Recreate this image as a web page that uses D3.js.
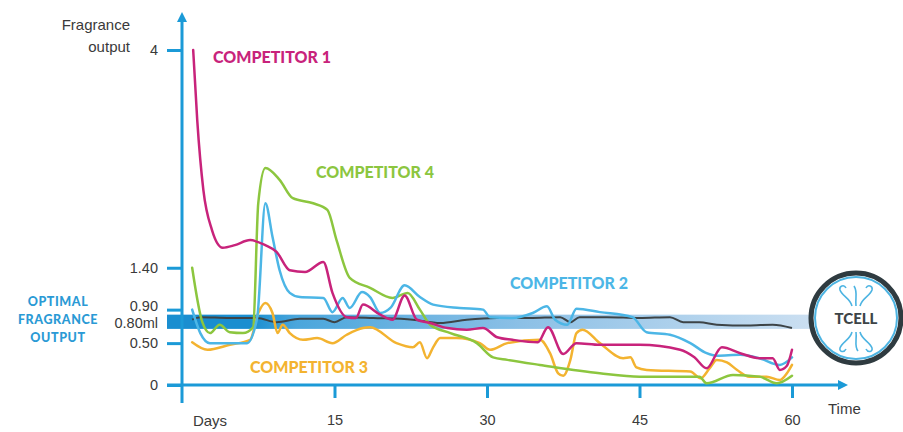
<!DOCTYPE html>
<html>
<head>
<meta charset="utf-8">
<script src="https://cdn.jsdelivr.net/npm/d3@7"></script>
<style>
  body { margin: 0; background: #fff; }
  svg { display: block; }
  .tick text { font-family: "Liberation Sans", Arial, sans-serif; font-size: 14.5px; fill: #3a3a3a; }
  .lbl { font-family: Lato, "Open Sans", sans-serif; font-weight: 900; }
</style>
</head>
<body>
<svg width="903" height="432"></svg>
<script>
// days / fragrance output
const comp1Days = [1.1, 1.5, 2.1, 2.95, 4.0, 5.2, 6.7, 8.2, 9.3, 10.6, 12.1, 13.9, 14.8, 16.2, 17.1, 17.8, 19.5, 20.7, 21.9, 23.1, 24.4, 26.1, 28.0, 29.6, 31.0, 32.5, 35.0, 36.0, 37.5, 38.8, 41.1, 45.0, 49.0, 50.4, 51.6, 53.1, 54.9, 56.8, 58.1, 58.8, 59.5, 60.0]
const comp1Vals = [4.0, 3.16, 2.33, 1.85, 1.64, 1.67, 1.73, 1.67, 1.59, 1.37, 1.35, 1.47, 1.10, 0.81, 0.80, 0.96, 0.84, 0.78, 1.07, 0.78, 0.74, 0.68, 0.66, 0.68, 0.57, 0.54, 0.51, 0.69, 0.37, 0.50, 0.48, 0.48, 0.42, 0.33, 0.20, 0.45, 0.38, 0.32, 0.32, 0.18, 0.23, 0.42]

const comp2Days = [1.0, 1.8, 2.75, 4.7, 6.4, 7.4, 8.2, 8.9, 9.6, 10.6, 11.6, 13.9, 14.8, 15.8, 16.5, 17.7, 18.5, 19.5, 20.5, 21.9, 23.4, 24.7, 27.3, 29.6, 30.3, 32.5, 34.5, 35.9, 36.7, 37.9, 38.8, 41.1, 44.3, 45.7, 48.0, 50.0, 51.6, 52.6, 54.9, 56.8, 58.8, 60.0]
const comp2Vals = [0.90, 0.62, 0.50, 0.50, 0.50, 0.81, 2.17, 1.77, 1.37, 1.10, 1.05, 1.04, 0.87, 1.04, 0.92, 1.11, 1.05, 0.86, 0.92, 1.19, 1.05, 0.96, 0.92, 0.90, 0.81, 0.80, 0.86, 0.94, 0.78, 0.72, 0.91, 0.87, 0.81, 0.63, 0.60, 0.50, 0.38, 0.35, 0.36, 0.32, 0.24, 0.33]

const comp3Days = [1.0, 2.5, 4.7, 6.7, 7.5, 8.2, 8.9, 9.4, 9.9, 10.6, 11.9, 13.3, 14.8, 16.2, 17.8, 18.5, 21.1, 22.7, 23.4, 24.1, 24.7, 25.4, 27.0, 29.3, 30.3, 32.0, 35.2, 36.2, 37.0, 37.5, 38.2, 38.8, 39.4, 41.1, 43.4, 44.1, 44.7, 45.7, 50.0, 51.0, 51.9, 52.6, 53.6, 54.6, 55.8, 57.5, 58.8, 59.5, 60.0]
const comp3Vals = [0.51, 0.42, 0.48, 0.54, 0.86, 0.98, 0.86, 0.62, 0.72, 0.62, 0.54, 0.56, 0.50, 0.60, 0.68, 0.69, 0.50, 0.45, 0.51, 0.32, 0.45, 0.56, 0.56, 0.50, 0.42, 0.50, 0.54, 0.38, 0.14, 0.11, 0.30, 0.62, 0.66, 0.50, 0.32, 0.33, 0.21, 0.18, 0.16, 0.08, 0.20, 0.30, 0.27, 0.18, 0.10, 0.10, 0.06, 0.14, 0.24]

const comp4Days = [1.0, 2.0, 2.75, 3.7, 4.7, 6.0, 7.0, 7.5, 8.2, 9.6, 10.9, 12.9, 14.3, 15.2, 16.5, 18.5, 20.7, 22.2, 23.4, 24.4, 26.4, 29.0, 30.6, 32.0, 35.2, 41.1, 45.0, 50.9, 51.6, 54.2, 56.8, 58.5, 60.0]
const comp4Vals = [1.40, 0.75, 0.62, 0.72, 0.63, 0.62, 0.69, 2.17, 2.59, 2.45, 2.23, 2.17, 2.09, 1.73, 1.28, 1.16, 1.04, 1.10, 0.90, 0.72, 0.62, 0.50, 0.33, 0.30, 0.24, 0.14, 0.10, 0.10, 0.02, 0.12, 0.10, 0.02, 0.11]

const tcellDays = [1.0, 1.8, 4.7, 7.4, 9.3, 11.6, 13.9, 15.0, 16.2, 18.8, 22.7, 25.4, 28.0, 31.0, 34.2, 37.2, 38.2, 39.1, 41.8, 45.0, 48.0, 49.3, 50.9, 52.6, 55.7, 58.1, 60.0]
const tcellVals = [0.78, 0.81, 0.80, 0.80, 0.75, 0.79, 0.79, 0.75, 0.81, 0.80, 0.78, 0.74, 0.78, 0.80, 0.80, 0.81, 0.75, 0.81, 0.81, 0.80, 0.81, 0.75, 0.75, 0.72, 0.71, 0.72, 0.68]

const seriesNames = ["COMPETITOR 1", "COMPETITOR 2", "COMPETITOR 3", "COMPETITOR 4"]
const yTickValues = [0, 0.5, 0.9, 1.4, 4]
const yTickLabels = ["0", "0.50", "0.90", "1.40", "4"]
const xTickValues = [15, 30, 45, 60]
const optimalBand = [0.67, 0.84]
const optimalLabel = "0.80ml"

const svg = d3.select('svg')
const x = d3.scaleLinear().domain([0, 60]).range([182, 792])
const y = d3.scaleLinear().domain([0, 4]).range([385, 50])
const axisBlue = '#1b9ad7'

const zip = (ds, vs) => ds.map((d, i) => ({ d: d, v: vs[i] }))
const series = [
  { name: seriesNames[0], color: '#c8237b', data: zip(comp1Days, comp1Vals), lx: 213, ly: 63 },
  { name: seriesNames[1], color: '#4cb6e6', data: zip(comp2Days, comp2Vals), lx: 510, ly: 289 },
  { name: seriesNames[2], color: '#f3b330', data: zip(comp3Days, comp3Vals), lx: 250, ly: 373 },
  { name: seriesNames[3], color: '#8cc63f', data: zip(comp4Days, comp4Vals), lx: 316, ly: 178 }
]

// gradient for the optimal band
const grad = svg.append('defs').append('linearGradient')
  .attr('id', 'band').attr('x1', 0).attr('x2', 1).attr('y1', 0).attr('y2', 0)
grad.append('stop').attr('offset', '0%').attr('stop-color', '#1a8ed0')
grad.append('stop').attr('offset', '13%').attr('stop-color', '#1a8ed0')
grad.append('stop').attr('offset', '20%').attr('stop-color', '#4aa6dc')
grad.append('stop').attr('offset', '55%').attr('stop-color', '#8cc0e6')
grad.append('stop').attr('offset', '100%').attr('stop-color', '#cbdff1')

svg.append('rect')
  .attr('x', 167).attr('width', 645)
  .attr('y', y(optimalBand[1])).attr('height', y(optimalBand[0]) - y(optimalBand[1]))
  .attr('fill', 'url(#band)')

// axes
const yAxis = d3.axisLeft(y).tickValues(yTickValues).tickSize(15).tickPadding(9)
  .tickFormat((d, i) => yTickLabels[i])
const gy = svg.append('g').attr('transform', 'translate(182,0)').call(yAxis)
gy.select('.domain').remove()
gy.selectAll('.tick line').attr('stroke', axisBlue).attr('stroke-width', 3)
// the 0.90 label sits a little above its tick in the original
gy.selectAll('.tick text').filter(d => d === 0.9).attr('dy', '0.05em')
gy.append('text')
  .attr('x', -24).attr('y', (y(optimalBand[0]) + y(optimalBand[1])) / 2 + 1).attr('dy', '0.36em')
  .attr('text-anchor', 'end')
  .style('font-family', '"Liberation Sans", Arial, sans-serif').style('font-size', '14.5px')
  .attr('fill', '#3a3a3a').text(optimalLabel)

const xAxis = d3.axisBottom(x).tickValues(xTickValues).tickSize(13).tickPadding(17)
const gx = svg.append('g').attr('transform', 'translate(0,385)').call(xAxis)
gx.select('.domain').remove()
gx.selectAll('.tick line').attr('stroke', axisBlue).attr('stroke-width', 3)

// axis lines with arrows
svg.append('line').attr('x1', 167).attr('x2', 840).attr('y1', 385).attr('y2', 385)
  .attr('stroke', axisBlue).attr('stroke-width', 3)
svg.append('path').attr('d', 'M838,380 L848,385 L838,390 Z').attr('fill', axisBlue)
svg.append('line').attr('x1', 182).attr('x2', 182).attr('y1', 403).attr('y2', 20)
  .attr('stroke', axisBlue).attr('stroke-width', 3)
svg.append('path').attr('d', 'M177,22 L182,12 L187,22 Z').attr('fill', axisBlue)

const plain = sel => sel.style('font-family', '"Liberation Sans", Arial, sans-serif')
  .style('font-size', '15px').attr('fill', '#3a3a3a')
plain(svg.append('text').attr('x', 130).attr('y', 30).attr('text-anchor', 'end').text('Fragrance'))
plain(svg.append('text').attr('x', 130).attr('y', 52).attr('text-anchor', 'end').text('output'))
plain(svg.append('text').attr('x', 210).attr('y', 426).attr('text-anchor', 'middle').text('Days'))
plain(svg.append('text').attr('x', 828).attr('y', 414).text('Time'))

// lines
const line = d3.line().x(p => x(p.d)).y(p => y(p.v)).curve(d3.curveMonotoneX)

svg.append('path').datum(zip(tcellDays, tcellVals))
  .attr('d', line).attr('fill', 'none').attr('stroke', '#3d4447').attr('stroke-width', 2)

const drawOrder = [2, 3, 1, 0]
drawOrder.forEach(i => {
  const s = series[i]
  svg.append('path').datum(s.data)
    .attr('d', line).attr('fill', 'none')
    .attr('stroke', s.color).attr('stroke-width', 2.5)
    .attr('stroke-linejoin', 'round').attr('stroke-linecap', 'round')
  svg.append('text').attr('class', 'lbl')
    .attr('x', s.lx).attr('y', s.ly)
    .style('font-size', '16px').attr('fill', s.color).text(s.name)
})

// optimal label
const optLines = ['OPTIMAL', 'FRAGRANCE', 'OUTPUT']
optLines.forEach((t, i) => {
  svg.append('text').attr('class', 'lbl')
    .attr('x', 58).attr('y', 306 + i * 18).attr('text-anchor', 'middle')
    .style('font-size', '12.5px').style('letter-spacing', '0.6px')
    .attr('fill', '#2a9ad5').text(t)
})

// TCELL badge
const badge = svg.append('g').attr('transform', 'translate(856,318)')
badge.append('circle').attr('r', 45).attr('fill', '#fff').attr('stroke', '#2f3b40').attr('stroke-width', 5)
badge.append('circle').attr('r', 41).attr('fill', 'none').attr('stroke', '#4db4e2').attr('stroke-width', 2)
badge.append('text').attr('class', 'lbl').attr('y', 6).attr('text-anchor', 'middle')
  .style('font-size', '15px').attr('fill', '#3d4447').text('TCELL')
const swirl = [
  'M-4,-12 C-6,-20 -14,-22 -16,-28 C-17,-32 -12,-34 -10,-30',
  'M0,-12 C-1,-20 2,-26 -2,-32',
  'M4,-12 C6,-20 14,-22 16,-28 C17,-32 12,-34 10,-30',
  'M-4,14 C-6,22 -14,24 -16,30 C-17,34 -12,35 -10,31',
  'M0,14 C1,22 -2,28 2,33',
  'M4,14 C6,22 14,24 16,30 C17,34 12,35 10,31'
]
badge.selectAll('path.sw').data(swirl).enter().append('path')
  .attr('class', 'sw').attr('d', d => d)
  .attr('fill', 'none').attr('stroke', '#4db4e2').attr('stroke-width', 1.6)
</script>
</body>
</html>
